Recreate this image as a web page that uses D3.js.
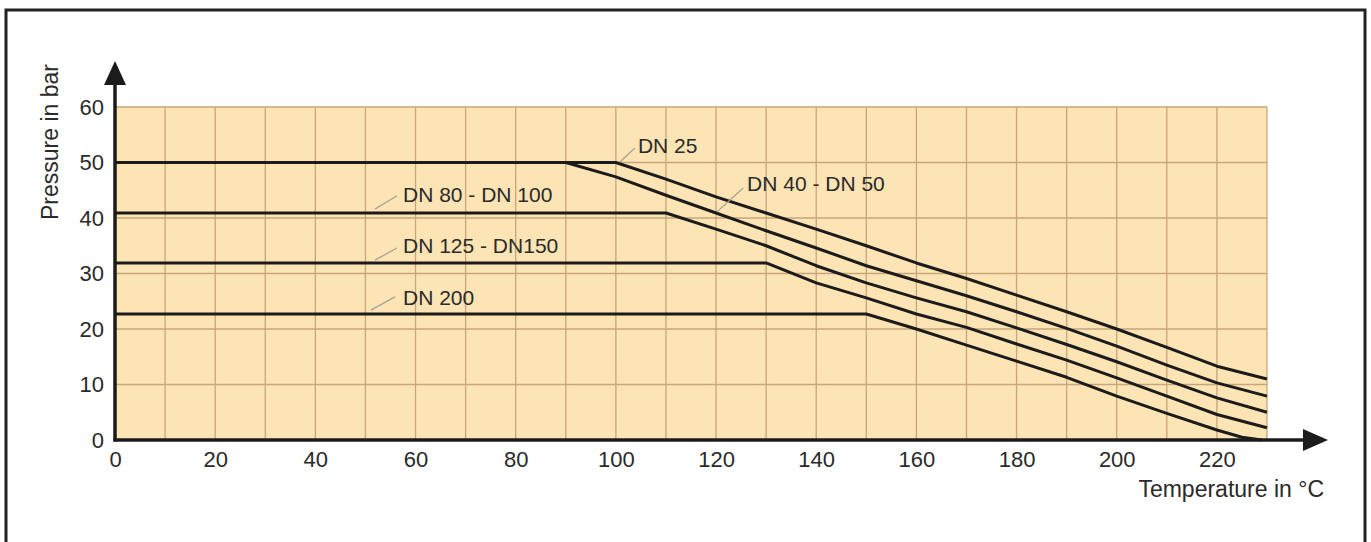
<!DOCTYPE html>
<html>
<head>
<meta charset="UTF-8">
<title>Pressure / temperature</title>
<script src="https://cdn.jsdelivr.net/npm/d3@7"></script>
<style>
body { margin: 0; background: #fff; }
svg text { font-family: "Liberation Sans", Arial, sans-serif; fill: #2a2a2a; }
</style>
</head>
<body>
<div id="chart"></div>
<script>
// values (temperature in °C, pressure in bar)
var xTicks = [0, 20, 40, 60, 80, 100, 120, 140, 160, 180, 200, 220];
var yTicks = [0, 10, 20, 30, 40, 50, 60];
var seriesNames = ["DN 25", "DN 40 - DN 50", "DN 80 - DN 100", "DN 125 - DN150", "DN 200"];
var dn25 = [[0,50],[100,50],[110,47],[120,43.8],[130,40.9],[140,38],[150,35],[160,31.9],[170,29.1],[180,26.1],[190,23.1],[200,20],[210,16.7],[220,13.3],[230,11]];
var dn40 = [[0,50],[90,50],[100,47.4],[110,44.1],[120,40.9],[130,37.7],[140,34.6],[150,31.4],[160,28.7],[170,26],[180,23.1],[190,20.1],[200,16.9],[210,13.5],[220,10.3],[230,7.9]];
var dn80 = [[0,40.9],[110,40.9],[120,38],[130,35],[140,31.4],[150,28.3],[160,25.6],[170,23.1],[180,20.2],[190,17.2],[200,14.1],[210,10.8],[220,7.6],[230,5]];
var dn125 = [[0,31.9],[130,31.9],[140,28.3],[150,25.6],[160,22.7],[170,20.3],[180,17.3],[190,14.4],[200,11.2],[210,7.9],[220,4.6],[230,2.2]];
var dn200 = [[0,22.7],[150,22.7],[160,20],[170,17.1],[180,14.2],[190,11.3],[200,7.9],[210,4.8],[220,1.8],[225,0.5],[229,0]];
var series = [dn25, dn40, dn80, dn125, dn200];

// label placement in data units: leader from -> to, then text start
var labelSpots = [
  {from: [100.8, 50.1], to: [103.8, 52.6], text: [104.4, 51.8]},
  {from: [120.2, 41.1], to: [125.4, 45.4], text: [126.2, 44.9]},
  {from: [51.9, 41.6],  to: [56.3, 44.0],  text: [57.5, 42.9]},
  {from: [51.9, 32.4],  to: [56.3, 34.6],  text: [57.5, 33.7]},
  {from: [51.1, 23.4],  to: [55.9, 25.8],  text: [57.5, 24.3]}
];

var w = 1371, h = 542;
var svg = d3.select("#chart").append("svg")
  .attr("width", w).attr("height", h);

var x = d3.scaleLinear().domain([0, 230]).range([115, 1267]);
var y = d3.scaleLinear().domain([0, 60]).range([440, 107]);

// outer frame (bottom runs past the picture)
svg.append("rect")
  .attr("x", 6).attr("y", 10).attr("width", 1359).attr("height", 560)
  .attr("fill", "none").attr("stroke", "#222").attr("stroke-width", 3);

// plot background
svg.append("rect")
  .attr("x", x(0)).attr("y", y(60))
  .attr("width", x(230) - x(0)).attr("height", y(0) - y(60))
  .attr("fill", "#fde4b5");

// grid
var grid = svg.append("g").attr("stroke", "#c6a67a").attr("stroke-width", 1.3);
grid.selectAll(".gx").data(d3.range(10, 240, 10)).enter().append("line")
  .attr("x1", d => x(d)).attr("x2", d => x(d))
  .attr("y1", y(0)).attr("y2", y(60));
grid.selectAll(".gy").data(d3.range(10, 70, 10)).enter().append("line")
  .attr("x1", x(0)).attr("x2", x(230))
  .attr("y1", d => y(d)).attr("y2", d => y(d));

// curves
var line = d3.line()
  .x(d => x(d[0])).y(d => y(d[1]));
svg.selectAll(".curve").data(series).enter().append("path")
  .attr("class", "curve")
  .attr("d", line)
  .attr("fill", "none").attr("stroke", "#1b1b1b").attr("stroke-width", 3)
  .attr("stroke-linejoin", "round");

// arrow axes
svg.append("line")
  .attr("x1", x(0)).attr("x2", x(0)).attr("y1", y(0) + 1.5).attr("y2", 80)
  .attr("stroke", "#1b1b1b").attr("stroke-width", 3.5);
svg.append("path")
  .attr("d", "M" + x(0) + ",61 L" + (x(0) - 11) + ",85 L" + (x(0) + 11) + ",85 Z")
  .attr("fill", "#1b1b1b");
svg.append("line")
  .attr("x1", x(0) - 1.5).attr("x2", 1308).attr("y1", y(0)).attr("y2", y(0))
  .attr("stroke", "#1b1b1b").attr("stroke-width", 3.5);
svg.append("path")
  .attr("d", "M1328," + y(0) + " L1303," + (y(0) - 11) + " L1303," + (y(0) + 11) + " Z")
  .attr("fill", "#1b1b1b");

// tick labels
var yAxis = svg.append("g")
  .attr("transform", "translate(" + x(0) + ",0)")
  .call(d3.axisLeft(y).tickValues(yTicks).tickSize(0).tickPadding(11));
yAxis.select(".domain").remove();
yAxis.selectAll("text").style("font-size", "22px").attr("fill", "#2a2a2a");

var xAxis = svg.append("g")
  .attr("transform", "translate(0," + y(0) + ")")
  .call(d3.axisBottom(x).tickValues(xTicks).tickSize(0).tickPadding(11));
xAxis.select(".domain").remove();
xAxis.selectAll("text").style("font-size", "22px").attr("fill", "#2a2a2a");

// axis titles
svg.append("text")
  .attr("transform", "translate(58,142) rotate(-90)")
  .attr("text-anchor", "middle")
  .style("font-size", "23px")
  .text("Pressure in bar");
svg.append("text")
  .attr("x", 1324).attr("y", 497)
  .attr("text-anchor", "end")
  .style("font-size", "23px")
  .text("Temperature in °C");

// series labels with leader lines
labelSpots.forEach(function(s, i) {
  svg.append("line")
    .attr("x1", x(s.from[0])).attr("y1", y(s.from[1]))
    .attr("x2", x(s.to[0])).attr("y2", y(s.to[1]))
    .attr("stroke", "#a8a294").attr("stroke-width", 1.3);
  svg.append("text")
    .attr("x", x(s.text[0])).attr("y", y(s.text[1]))
    .style("font-size", "21px")
    .text(seriesNames[i]);
});
</script>
</body>
</html>
